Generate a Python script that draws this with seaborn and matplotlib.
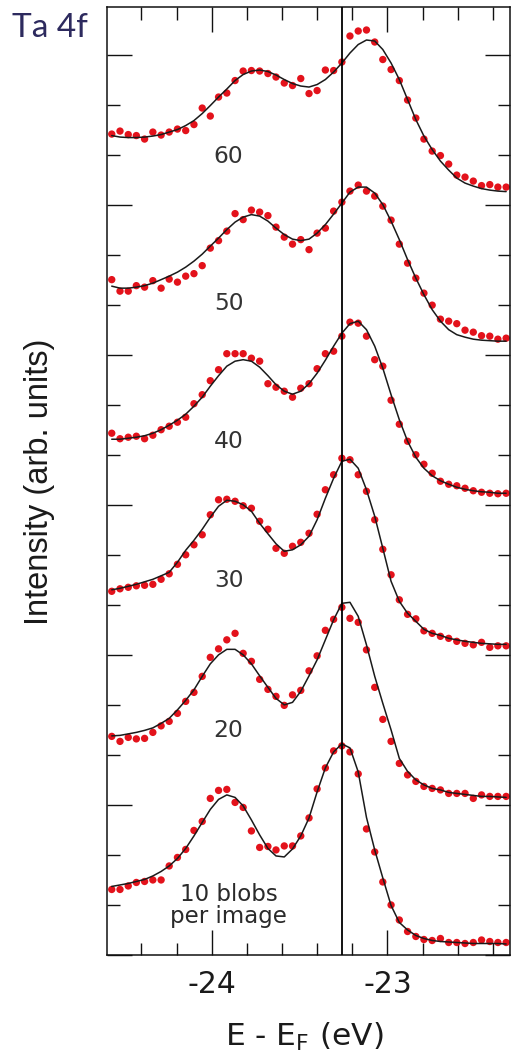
import matplotlib
matplotlib.use("Agg")
import matplotlib.pyplot as plt
import seaborn as sns
import pandas as pd
from matplotlib.ticker import MultipleLocator, FixedLocator

# Binding energy grid (eV, E - E_F)
energy = [-24.569, -24.522, -24.475, -24.429, -24.382, -24.335, -24.288, -24.242,
          -24.195, -24.148, -24.101, -24.054, -24.008, -23.961, -23.914, -23.867,
          -23.821, -23.774, -23.727, -23.680, -23.634, -23.587, -23.540, -23.493,
          -23.446, -23.400, -23.353, -23.306, -23.259, -23.213, -23.166, -23.119,
          -23.072, -23.026, -22.979, -22.932, -22.885, -22.838, -22.792, -22.745,
          -22.698, -22.651, -22.605, -22.558, -22.511, -22.464, -22.417, -22.371,
          -22.324]

# Measured intensities (arb. units, already offset vertically)
data_60 = [164.1, 164.7, 164.0, 163.8, 163.1, 164.5, 163.9, 164.5, 165.1, 164.8,
           166.0, 169.3, 167.7, 171.5, 172.3, 174.8, 176.7, 176.8, 176.7, 176.2,
           175.5, 174.3, 173.8, 175.2, 172.2, 172.8, 176.9, 176.8, 178.5, 183.7,
           184.7, 184.9, 182.5, 179.0, 177.0, 174.8, 170.9, 167.3, 163.1, 160.7,
           159.8, 158.1, 155.9, 155.5, 154.7, 153.8, 154.0, 153.5, 153.5]
data_50 = [135.0, 132.7, 132.7, 133.8, 133.5, 134.8, 133.3, 135.1, 134.5, 135.7,
           136.2, 137.8, 141.3, 142.8, 144.7, 148.2, 147.0, 148.9, 148.5, 147.8,
           145.5, 143.5, 142.1, 143.0, 141.0, 144.3, 145.3, 148.7, 150.5, 152.7,
           153.9, 152.7, 151.7, 149.7, 146.9, 142.1, 138.3, 135.3, 132.3, 129.9,
           127.1, 126.7, 126.2, 124.9, 124.5, 123.8, 123.7, 123.1, 123.3]
data_40 = [104.3, 103.2, 103.5, 103.7, 103.2, 103.9, 105.0, 105.7, 106.5, 107.5,
           110.2, 112.0, 114.8, 117.0, 120.2, 120.2, 120.2, 119.3, 118.7, 114.2,
           113.5, 112.7, 111.5, 113.3, 114.2, 117.2, 120.2, 120.7, 123.7, 126.5,
           126.3, 123.7, 119.0, 117.7, 110.9, 106.1, 102.7, 100.0, 98.1, 96.3,
           94.7, 94.1, 93.8, 93.3, 92.8, 92.5, 92.3, 92.2, 92.3]
data_30 = [72.7, 73.2, 73.5, 73.8, 73.9, 74.1, 75.1, 76.2, 78.1, 80.0,
           82.0, 84.0, 88.0, 91.0, 91.1, 90.7, 89.8, 89.3, 86.7, 85.1,
           81.3, 80.3, 81.7, 82.5, 84.3, 88.1, 93.0, 96.0, 99.3, 99.0,
           96.0, 92.7, 87.0, 81.1, 76.0, 71.0, 68.1, 67.2, 64.8, 64.3,
           63.7, 63.3, 62.7, 62.3, 62.0, 62.5, 61.5, 61.8, 61.8]
data_20 = [43.7, 42.7, 43.5, 43.2, 43.3, 44.5, 45.8, 46.7, 48.3, 50.7,
           52.5, 55.7, 59.5, 61.2, 63.0, 64.3, 60.3, 58.7, 55.1, 53.1,
           51.7, 49.9, 52.0, 52.9, 56.8, 59.8, 64.9, 67.1, 69.5, 67.3,
           66.5, 61.0, 53.5, 47.1, 42.7, 38.3, 36.0, 34.7, 33.7, 33.3,
           33.0, 32.3, 32.3, 32.3, 31.3, 32.0, 31.7, 31.7, 31.7]
data_10 = [13.1, 13.1, 13.8, 14.5, 14.7, 15.0, 15.0, 17.8, 19.5, 21.1,
           24.9, 26.7, 31.3, 32.9, 33.1, 30.5, 29.5, 24.8, 21.5, 21.7,
           21.0, 21.8, 21.8, 23.8, 27.4, 33.2, 37.4, 40.8, 41.8, 40.6,
           36.2, 25.2, 20.6, 14.6, 10.0, 7.0, 4.7, 3.7, 3.1, 2.9,
           3.3, 2.5, 2.5, 2.3, 2.5, 3.0, 2.7, 2.5, 2.5]

# Fitted curves (at the same energies)
fit_60 = [163.8, 163.5, 163.4, 163.4, 163.5, 163.7, 164.0, 164.5, 165.0, 165.8,
          166.8, 168.2, 169.8, 171.5, 173.1, 174.8, 176.0, 176.7, 176.9, 176.6,
          175.9, 175.0, 174.2, 173.7, 173.5, 174.0, 175.0, 176.5, 178.3, 180.3,
          182.0, 182.9, 182.7, 181.0, 178.3, 175.0, 171.0, 167.0, 163.7, 161.0,
          158.7, 156.9, 155.3, 154.3, 153.7, 153.2, 152.9, 152.7, 152.6]
fit_50 = [133.7, 133.3, 133.3, 133.5, 133.8, 134.3, 135.0, 135.7, 136.5, 137.5,
          138.7, 140.1, 141.7, 143.3, 145.0, 146.5, 147.5, 148.0, 147.7, 146.7,
          145.3, 144.0, 143.1, 142.8, 143.1, 144.3, 146.0, 148.1, 150.3, 152.5,
          153.5, 153.5, 152.3, 150.0, 146.7, 143.0, 139.0, 135.3, 132.0, 129.0,
          126.7, 125.0, 124.0, 123.5, 123.1, 122.9, 122.8, 122.7, 122.7]
fit_40 = [103.1, 103.1, 103.3, 103.5, 103.8, 104.3, 105.0, 105.9, 106.9, 108.1,
          109.7, 111.5, 113.7, 115.8, 117.7, 118.7, 119.0, 118.7, 117.5, 115.8,
          114.0, 112.7, 112.1, 112.7, 114.2, 116.3, 118.9, 121.7, 124.3, 126.2,
          126.7, 125.0, 121.7, 117.3, 112.0, 107.0, 102.7, 99.5, 97.3, 95.8,
          94.8, 94.1, 93.5, 93.1, 92.8, 92.6, 92.5, 92.3, 92.3]
fit_30 = [73.0, 73.3, 73.7, 74.1, 74.6, 75.1, 75.8, 76.5, 78.5, 80.9,
          82.9, 85.1, 87.5, 89.7, 90.9, 90.7, 90.0, 88.7, 86.3, 84.2,
          82.2, 80.7, 81.0, 82.0, 83.7, 87.0, 91.3, 95.3, 98.7, 99.1,
          97.3, 93.0, 87.7, 81.3, 74.7, 70.7, 68.3, 66.7, 65.1, 64.3,
          63.9, 63.3, 63.0, 62.7, 62.5, 62.3, 62.2, 62.1, 62.1]
fit_20 = [43.8, 43.9, 44.2, 44.5, 44.9, 45.4, 46.3, 47.3, 49.0, 50.9,
          53.0, 55.7, 58.2, 60.0, 61.1, 61.1, 60.0, 58.2, 55.8, 53.5,
          51.3, 50.0, 50.5, 52.7, 55.8, 59.0, 63.0, 67.0, 70.3, 70.5,
          67.7, 62.0, 55.7, 50.3, 45.0, 39.3, 36.7, 35.0, 34.0, 33.3,
          33.0, 32.5, 32.3, 32.1, 31.9, 31.7, 31.7, 31.6, 31.5]
fit_10 = [13.7, 14.0, 14.3, 14.7, 15.1, 15.8, 16.7, 17.8, 19.3, 21.3,
          23.8, 26.5, 29.1, 31.1, 32.0, 31.5, 29.8, 27.0, 24.0, 21.3,
          19.8, 19.6, 21.2, 23.8, 27.4, 32.6, 37.4, 40.6, 42.2, 41.4,
          36.6, 27.5, 21.0, 15.4, 9.9, 6.5, 5.0, 3.9, 3.3, 2.9,
          2.7, 2.6, 2.5, 2.4, 2.3, 2.3, 2.3, 2.3, 2.2]

spectra_labels = ["60", "50", "40", "30", "20"]
label_levels = [158.4, 129.0, 101.4, 73.6, 43.6]
reference_energy = -23.26
x_major = [-24, -23]
x_major_labels = ["-24", "-23"]

datasets = [data_60, data_50, data_40, data_30, data_20, data_10]
fits = [fit_60, fit_50, fit_40, fit_30, fit_20, fit_10]

sns.set_style("ticks")
plt.rcParams['font.family'] = ['DejaVu Sans']

W, H = 513, 1056
fig = plt.figure(figsize=(W / 100, H / 100), dpi=100)
ax = fig.add_axes([107 / W, 101 / H, 403 / W, 948 / H])

for d, f in zip(datasets, fits):
    sns.scatterplot(x=energy, y=d, ax=ax, color='#e3121b', s=28,
                    edgecolor='none', linewidth=0, zorder=2, legend=False)
    sns.lineplot(x=energy, y=f, ax=ax, color='#1a1a1a', linewidth=1.1,
                 sort=False, estimator=None, zorder=3, legend=False)

ax.axvline(reference_energy, color='black', linewidth=1.3, zorder=4)

ax.set_xlim(-24.596, -22.302)
ax.set_ylim(0, 189.5)

ax.xaxis.set_major_locator(FixedLocator(x_major))
ax.set_xticklabels(x_major_labels)
ax.xaxis.set_minor_locator(MultipleLocator(0.2))
ax.yaxis.set_major_locator(MultipleLocator(30))
ax.yaxis.set_minor_locator(MultipleLocator(10))

ax.tick_params(which='both', direction='in', top=True, right=True,
               labelleft=False, color='#111111')
ax.tick_params(which='major', length=18, width=1.0, labelsize=21.5, pad=11,
               labelcolor='#1a1a1a')
ax.tick_params(which='minor', length=9, width=1.0)
for sp in ax.spines.values():
    sp.set_linewidth(1.1)
    sp.set_color('#111111')
ax.set_xlabel("")
ax.set_ylabel("")

for lab, lev in zip(spectra_labels, label_levels):
    ax.text(-23.904, lev, lab, ha='center', va='baseline', fontsize=16.8,
            color='#333333')
ax.text(-23.904, 10.8, "10 blobs", ha='center', va='baseline', fontsize=16.5,
        color='#2a2a2a')
ax.text(-23.904, 6.4, "per image", ha='center', va='baseline', fontsize=16.5,
        color='#2a2a2a')

fig.text(40 / W, 1 - 482 / H, "Intensity (arb. units)", rotation=90,
         ha='center', va='center', fontsize=23.5, color='#1a1a1a',
         family=['Liberation Sans', 'DejaVu Sans'])
fig.text(304 / W, 10 / H, r"E - E$_\mathregular{F}$ (eV)", ha='center',
         va='baseline', fontsize=22.5, color='#1a1a1a')
fig.text(12 / W, 1 - 37 / H, "Ta 4f", ha='left', va='baseline', fontsize=24,
         color='#2d2a5e', family=['Lato', 'DejaVu Sans'])

fig.savefig("out.png", dpi=100)
